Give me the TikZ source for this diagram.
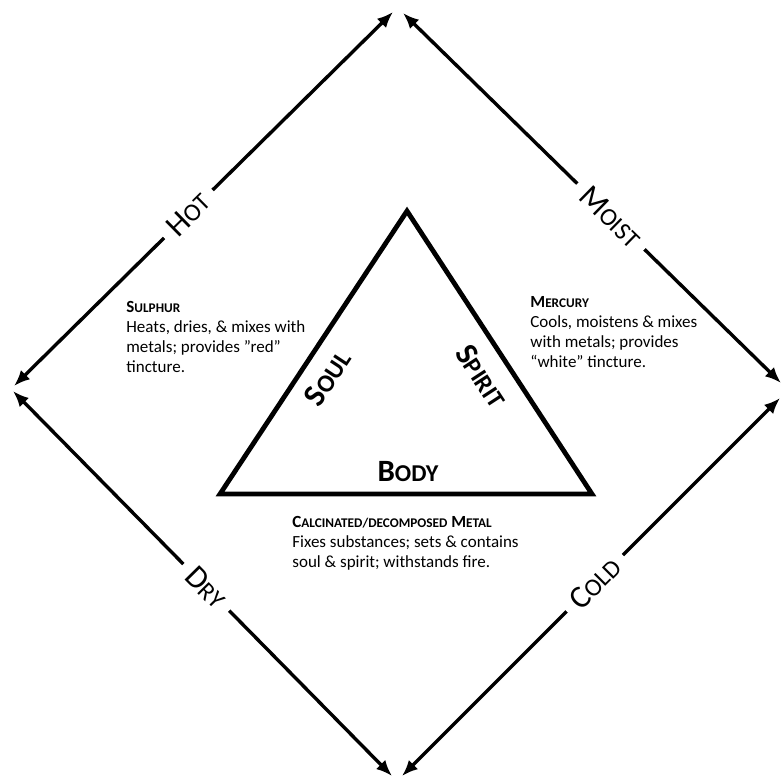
\documentclass[tikz,border=0pt]{standalone}
\usepackage{fontspec}
\setmainfont{Carlito}
\usepackage{graphicx}
\usetikzlibrary{arrows.meta,positioning}

% first letter full size, rest as small capitals
\newcommand{\smc}[2]{#1\scalebox{0.78}{#2}}

\begin{document}
\begin{tikzpicture}[
    x=0.5pt, y=-0.5pt,
    axis/.style={{Latex[length=8pt,width=6.5pt]}-{Latex[length=8pt,width=6.5pt]}, line width=1.7pt},
    quality/.style={sloped, fill=white, inner xsep=5pt, inner ysep=2pt, font=\fontsize{16}{18}\selectfont},
    tri/.style={line width=2.4pt, line join=miter},
    principle/.style={sloped, font=\bfseries\fontsize{16}{18}\selectfont},
    note/.style={anchor=north west, align=left, inner sep=0pt, font=\fontsize{8.5}{10}\selectfont}
]
\useasboundingbox (0,0) rectangle (782,778);

% corners of the square of qualities
\coordinate (topL) at (393,12);
\coordinate (topR) at (403,13);
\coordinate (leftT) at (14,386);
\coordinate (leftB) at (13,391);
\coordinate (botL) at (392,776);
\coordinate (botR) at (402,776);
\coordinate (rightT) at (781,383);
\coordinate (rightB) at (780,398);

\draw[axis] (leftT) -- node[quality, pos=0.46] (hot) {\smc{H}{OT}} (topL);
\draw[axis] (topR) -- node[quality, pos=0.55] (moist) {\smc{M}{OIST}} (rightT);
\draw[axis] (leftB) -- node[quality, pos=0.51] (dry) {\smc{D}{RY}} (botL);
\draw[axis] (botR) -- node[quality, pos=0.51] (cold) {\smc{C}{OLD}} (rightB);

% triangle of principles
\coordinate (apex) at (407,211);
\coordinate (bl) at (220,494);
\coordinate (br) at (592,494);
\draw[tri] (bl) -- node[principle, below=3pt, pos=0.46] (soul) {\smc{S}{OUL}}
    (apex) -- node[principle, below=4pt, pos=0.53] (spirit) {\smc{S}{PIRIT}}
    (br) -- cycle;
\node[font=\bfseries\fontsize{15.5}{18}\selectfont, anchor=base] (body) at (408,481) {\smc{B}{ODY}};

% descriptions
\node[note] (sulphur) at (126,301) {{\bfseries\fontsize{8.5}{10}\selectfont\smc{S}{ULPHUR}}\\
    Heats, dries, \& mixes with\\metals; provides ”red”\\tincture.};
\node[note] (mercury) at (530,296) {{\bfseries\fontsize{8.5}{10}\selectfont\smc{M}{ERCURY}}\\
    Cools, moistens \& mixes\\with metals; provides\\“white” tincture.};
\node[note] (metal) at (292,516) {{\bfseries\fontsize{8.5}{10}\selectfont\smc{C}{ALCINATED/DECOMPOSED} \smc{M}{ETAL}}\\
    Fixes substances; sets \& contains\\soul \& spirit; withstands fire.};
\end{tikzpicture}
\end{document}
